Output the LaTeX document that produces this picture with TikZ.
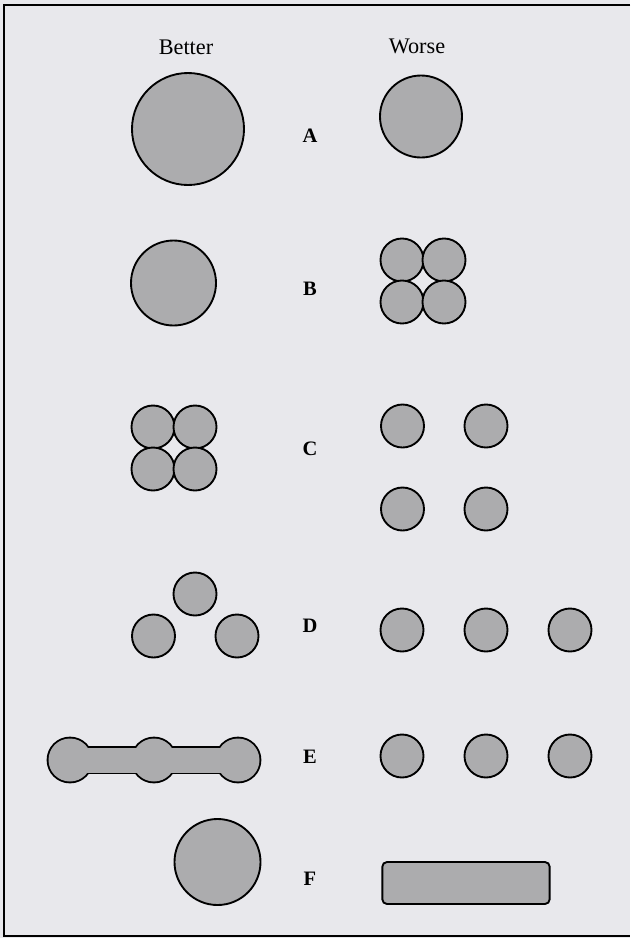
\documentclass[tikz,border=0pt]{standalone}
\usepackage{fontspec}
\setmainfont{Liberation Serif}
\usetikzlibrary{positioning}

\definecolor{paper}{RGB}{232,232,236}
\definecolor{dots}{RGB}{172,172,174}

\begin{document}
\begin{tikzpicture}[
    x=0.03cm, y=-0.03cm,
    disc/.style={circle, draw=black, fill=dots, line width=1.6pt, inner sep=0pt}, % Style for the shaded circles
    small/.style={disc, minimum size=1.29cm}, % Style for the small circles
    slab/.style={draw=black, fill=dots, line width=1.6pt, rounded corners=4pt, inner sep=0pt}, % Style for the flat bar
    head/.style={font=\fontsize{19}{21}\selectfont}, % Column titles
    row/.style={font=\bfseries\fontsize{17.5}{19}\selectfont} % Row letters
]

% Paper and frame
\useasboundingbox (0,0) rectangle (630,938);
\fill[paper] (0,0) rectangle (630,938);
\draw[line width=1.4pt] (630,5) -- (4,5) -- (4,936) -- (630,936);

% Titles
\node[head] (better) at (186,47) {Better};
\node[head] (worse) at (417,46) {Worse};

% Row letters
\foreach \l/\y in {A/136, B/289, C/449, D/626, E/757, F/879}
    \node[row] (lab\l) at (310,\y) {\l};

% --- Row A ---
\node[disc, minimum size=3.36cm] (betterA) at (188,129) {};
\node[disc, minimum size=2.46cm] (worseA) at (421,116.5) {};

% --- Row B ---
\node[disc, minimum size=2.55cm] (betterB) at (173.5,283) {};
\foreach \i/\x/\y in {1/402/260, 2/444/260, 3/402/302, 4/444/302}
    \node[small] (worseB\i) at (\x,\y) {};

% --- Row C ---
\foreach \i/\x/\y in {1/153/427, 2/195/427, 3/153/469, 4/195/469}
    \node[small] (betterC\i) at (\x,\y) {};
\foreach \i/\x/\y in {1/402.5/426, 2/486/426, 3/402.5/509, 4/486/509}
    \node[small] (worseC\i) at (\x,\y) {};

% --- Row D ---
\foreach \i/\x/\y in {1/195/594, 2/153.5/636, 3/237/636}
    \node[small] (betterD\i) at (\x,\y) {};
\foreach \i/\x in {1/402, 2/486, 3/570}
    \node[small] (worseD\i) at (\x,630) {};

% --- Row E ---
% Better: three circles joined by a bar, outlined as one shape
\foreach \x in {70,154,238} \draw[line width=3.2pt] (\x,760) circle[radius=21.5];
\draw[line width=3.2pt] (70,747.5) rectangle (238,772.5);
\foreach \x in {70,154,238} \fill[dots] (\x,760) circle[radius=21.5];
\fill[dots] (70,747.5) rectangle (238,772.5);
\foreach \i/\x in {1/402, 2/486, 3/570}
    \node[small] (worseE\i) at (\x,756) {};

% --- Row F ---
\node[disc, minimum size=2.58cm] (betterF) at (217.5,862) {};
\node[slab, minimum width=5.02cm, minimum height=1.26cm] (worseF) at (466,883) {};

\end{tikzpicture}
\end{document}
